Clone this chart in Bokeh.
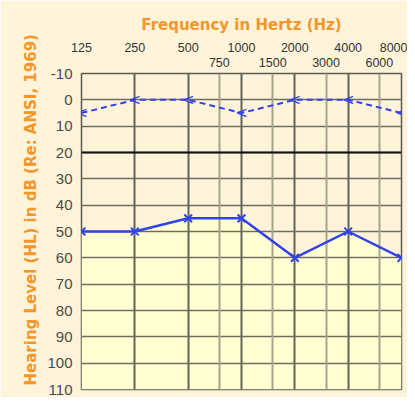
from bokeh.plotting import figure
from bokeh.models import (Title, FixedTicker, LogAxis, Grid, Range1d,
                          NumeralTickFormatter, Span)
from bokeh.core.properties import value
from bokeh.embed import file_html
from bokeh.resources import INLINE

# ---- data ----
octave_freqs = [125, 250, 500, 1000, 2000, 4000, 8000]
half_freqs = [750, 1500, 3000, 6000]
db_ticks = [-10, 0, 10, 20, 30, 40, 50, 60, 70, 80, 90, 100, 110]
air_db = [50, 50, 45, 45, 60, 50, 60]
bone_db = [5, 0, 0, 5, 0, 0, 5]
floor_db = 110

BEIGE = "#fff4da"
YELLOW = "#ffffd2"
BLUE = "#3242ea"
ORANGE = "#f5962a"

p = figure(width=407, height=397, x_axis_type="log",
           x_range=Range1d(125, 8000), y_range=Range1d(110, -10),
           x_axis_location="above",
           output_backend="svg", toolbar_location=None,
           min_border_left=81, min_border_right=6,
           min_border_top=73, min_border_bottom=8)

p.background_fill_color = BEIGE
p.border_fill_color = BEIGE
p.outline_line_color = "#5a5a4c"
p.outline_line_width = 1.5

# title
p.title.text = "Frequency in Hertz (Hz)"
p.title.align = "center"
p.title.text_color = ORANGE
p.title.text_font = "DejaVu Sans"
p.title.text_font_style = "bold"
p.title.text_font_size = "15px"
p.title.standoff = 11

ytitle = Title(text="Hearing Level (HL) in dB (Re: ANSI, 1969)", align="left",
               text_color=ORANGE, text_font="DejaVu Sans", text_font_style="bold",
               text_font_size="15px", offset=4)
p.add_layout(ytitle, "left")

# x axes (half-octave row nearest frame, octave row above)
xa = p.xaxis[0]
xa.ticker = FixedTicker(ticks=half_freqs)
top_axis = LogAxis(ticker=FixedTicker(ticks=octave_freqs))
p.add_layout(top_axis, "above")
for ax in (xa, top_axis):
    ax.formatter = NumeralTickFormatter(format="0")
    ax.axis_line_color = None
    ax.major_tick_line_color = None
    ax.minor_tick_line_color = None
    ax.major_label_text_font = "Liberation Sans"
    ax.major_label_text_font_size = "12.5px"
    ax.major_label_text_color = "#333333"
xa.major_label_standoff = 1
top_axis.major_label_standoff = -3

ya = p.yaxis[0]
ya.ticker = FixedTicker(ticks=db_ticks)
ya.formatter = NumeralTickFormatter(format="0")
ya.axis_line_color = None
ya.major_tick_line_color = None
ya.minor_tick_line_color = None
ya.major_label_text_font = "Liberation Sans"
ya.major_label_text_font_size = "15px"
ya.major_label_text_color = "#4a4a4a"
ya.major_label_standoff = 3

# grids
p.xgrid.ticker = FixedTicker(ticks=octave_freqs)
p.xgrid.grid_line_color = "#62625a"
p.xgrid.grid_line_width = 2
p.ygrid.ticker = FixedTicker(ticks=db_ticks)
p.ygrid.grid_line_color = "#6e6e60"
p.ygrid.grid_line_width = 1.5
half_grid = Grid(dimension=0, ticker=FixedTicker(ticks=half_freqs),
                 grid_line_color="#a4a48e", grid_line_width=2)
p.add_layout(half_grid)
p.add_layout(Span(location=20, dimension="width", line_color="#111111", line_width=2))

# yellow area under the air-conduction curve
area = p.varea(x=octave_freqs, y1=air_db, y2=[floor_db] * len(octave_freqs),
               fill_color=YELLOW)
area.level = "image"

# air conduction
p.line(octave_freqs, air_db, line_color=BLUE, line_width=2.5)
p.scatter(octave_freqs, air_db, marker="x", size=11, line_color=BLUE, line_width=2)

# bone conduction
p.line(octave_freqs, bone_db, line_color=BLUE, line_width=2, line_dash="6 4")
p.text(octave_freqs, bone_db, text=["<"] * len(octave_freqs),
       text_color=BLUE, text_font=value("DejaVu Sans"), text_font_size="15px",
       text_align="center", text_baseline="middle")

open("out.html", "w").write(file_html(p, INLINE))
